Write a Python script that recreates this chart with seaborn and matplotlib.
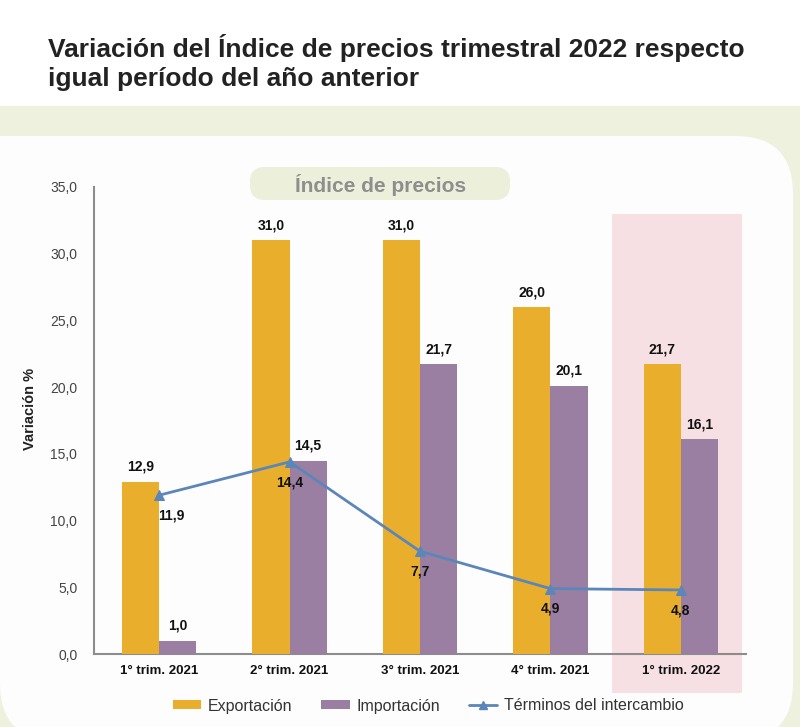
import matplotlib
matplotlib.use("Agg")
import matplotlib.pyplot as plt
import seaborn as sns
import pandas as pd
from matplotlib.patches import FancyBboxPatch, Rectangle, Patch
from matplotlib.lines import Line2D
from matplotlib.ticker import FuncFormatter

categories = ["1° trim. 2021", "2° trim. 2021", "3° trim. 2021", "4° trim. 2021", "1° trim. 2022"]
exportacion = [12.9, 31.0, 31.0, 26.0, 21.7]
importacion = [1.0, 14.5, 21.7, 20.1, 16.1]
terminos = [11.9, 14.4, 7.7, 4.9, 4.8]
series_names = ["Exportación", "Importación", "Términos del intercambio"]

C_EXP = "#E9AF2C"
C_IMP = "#9A7FA3"
C_LINE = "#5B86BA"
GREEN = "#EEF1DD"

sns.set_theme(style="white")
plt.rcParams["font.family"] = ["Liberation Sans", "DejaVu Sans"]

fig = plt.figure(figsize=(8, 7.27), dpi=100)
fig.patch.set_facecolor("white")

# background axes in pixel coordinates
bg = fig.add_axes([0, 0, 1, 1], zorder=0)
bg.set_xlim(0, 800)
bg.set_ylim(727, 0)
bg.axis("off")
bg.add_patch(Rectangle((0, 106), 800, 700, facecolor=GREEN, edgecolor="none"))
bg.add_patch(FancyBboxPatch((0, 136), 793, 605, boxstyle="round,pad=0,rounding_size=58",
                            facecolor="#FDFDFE", edgecolor="none"))
bg.add_patch(Rectangle((0, 136), 120, 200, facecolor="#FDFDFE", edgecolor="none"))
bg.add_patch(FancyBboxPatch((250, 167), 260, 33, boxstyle="round,pad=0,rounding_size=15",
                            facecolor="#ECEFDA", edgecolor="none"))
bg.text(381, 185, "Índice de precios", ha="center", va="center", fontsize=15,
        fontweight="bold", color="#8E8E8E", family=["Liberation Sans Narrow", "Liberation Sans"])

fig.text(0.06, 1 - 48 / 727, "Variación del Índice de precios trimestral 2022 respecto",
         fontsize=19, fontweight="bold", color="#222222", va="center", ha="left")
fig.text(0.06, 1 - 79 / 727, "igual período del año anterior",
         fontsize=19, fontweight="bold", color="#222222", va="center", ha="left")

ax = fig.add_axes([94 / 800, 1 - 654 / 727, (746 - 94) / 800, (654 - 187) / 727], zorder=1)
ax.patch.set_alpha(0)

df = pd.DataFrame({
    "trim": categories * 2,
    "valor": exportacion + importacion,
    "serie": [series_names[0]] * 5 + [series_names[1]] * 5,
})
sns.barplot(data=df, x="trim", y="valor", hue="serie", palette=[C_EXP, C_IMP],
            width=0.57, gap=0, saturation=1, ax=ax, legend=False, zorder=3,
            linewidth=0, edgecolor="none")

# highlight last quarter
ax.add_patch(Rectangle((3.47, -2.9), 1.0, 35.9, facecolor="#F6E0E4", edgecolor="none",
                       clip_on=False, zorder=0))

sns.lineplot(x=categories, y=terminos, ax=ax, color=C_LINE, linewidth=2, marker="^",
             markersize=7, markeredgecolor=C_LINE, sort=False, zorder=5)

off = 0.57 / 4
for i in range(5):
    ax.text(i - off, exportacion[i] + 0.6, f"{exportacion[i]:.1f}".replace(".", ","),
            ha="center", va="bottom", fontsize=10, fontweight="bold", color="#111111", zorder=6)
    ax.text(i + off, importacion[i] + 0.6, f"{importacion[i]:.1f}".replace(".", ","),
            ha="center", va="bottom", fontsize=10, fontweight="bold", color="#111111", zorder=6)
    dx = 0.09 if i == 0 else 0.0
    ax.text(i + dx, terminos[i] - 1.0, f"{terminos[i]:.1f}".replace(".", ","),
            ha="center", va="top", fontsize=10, fontweight="bold", color="#111111", zorder=6)

ax.set_xlim(-0.5, 4.5)
ax.set_ylim(0, 35)
ax.set_yticks(range(0, 36, 5))
ax.yaxis.set_major_formatter(FuncFormatter(lambda v, p: f"{v:.1f}".replace(".", ",")))
ax.tick_params(axis="y", labelsize=10, labelcolor="#444444", length=0, pad=12)
ax.tick_params(axis="x", labelsize=9.5, labelcolor="#111111", length=0, pad=8)
for lab in ax.get_xticklabels():
    lab.set_fontweight("bold")
ax.set_xlabel("")
ax.set_ylabel("Variación %", fontsize=10.5, fontweight="bold", color="#222222")
ax.yaxis.set_label_coords(-0.088, 0.525)
for s in ["top", "right"]:
    ax.spines[s].set_visible(False)
for s in ["left", "bottom"]:
    ax.spines[s].set_color("#8C8C8C")
    ax.spines[s].set_linewidth(1.5)

handles = [Patch(facecolor=C_EXP, edgecolor="none"),
           Patch(facecolor=C_IMP, edgecolor="none"),
           Line2D([0], [0], color=C_LINE, lw=2, marker="^", markersize=6)]
fig.legend(handles, series_names, loc="center", bbox_to_anchor=(428 / 800, 1 - 706 / 727),
           ncol=3, frameon=False, fontsize=11.5, handlelength=1.8, handleheight=0.5,
           columnspacing=1.8, handletextpad=0.4, labelcolor="#333333")

fig.savefig("out.png", dpi=100)
